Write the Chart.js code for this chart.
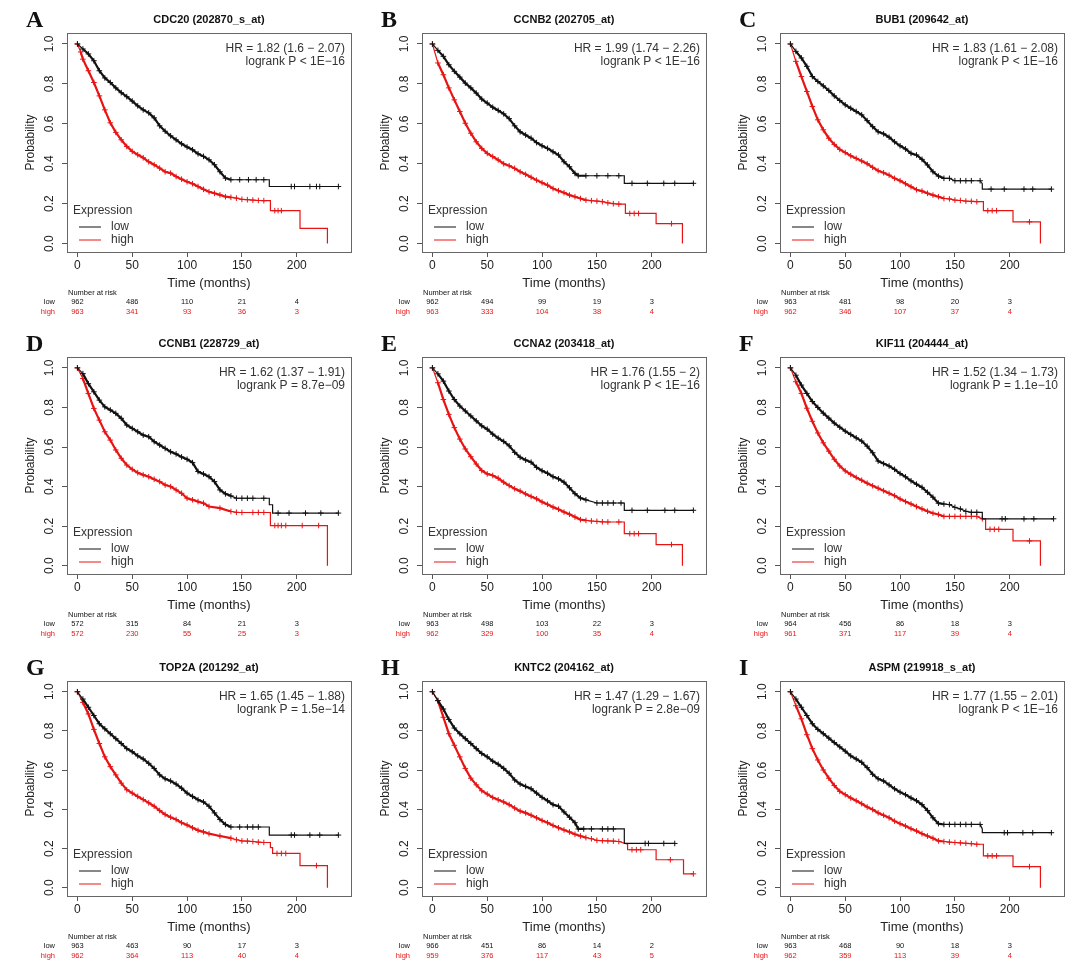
<!DOCTYPE html>
<html>
<head>
<meta charset="utf-8">
<script src="https://cdn.jsdelivr.net/npm/chart.js@4"></script>
<style>
  body { margin: 0; background: #fff; }
  #wrap { position: relative; width: 1080px; height: 971px; }
  .panel { position: absolute; width: 356px; height: 320px; }
</style>
</head>
<body>
<div id="wrap"></div>
<script>
const letters = ['A', 'B', 'C', 'D', 'E', 'F', 'G', 'H', 'I'];
const genes = ['CDC20 (202870_s_at)', 'CCNB2 (202705_at)', 'BUB1 (209642_at)',
  'CCNB1 (228729_at)', 'CCNA2 (203418_at)', 'KIF11 (204444_at)',
  'TOP2A (201292_at)', 'KNTC2 (204162_at)', 'ASPM (219918_s_at)'];
const hrLines = ['HR = 1.82 (1.6 \u2212 2.07)', 'HR = 1.99 (1.74 \u2212 2.26)', 'HR = 1.83 (1.61 \u2212 2.08)',
  'HR = 1.62 (1.37 \u2212 1.91)', 'HR = 1.76 (1.55 \u2212 2)', 'HR = 1.52 (1.34 \u2212 1.73)',
  'HR = 1.65 (1.45 \u2212 1.88)', 'HR = 1.47 (1.29 \u2212 1.67)', 'HR = 1.77 (1.55 \u2212 2.01)'];
const pLines = ['logrank P < 1E\u221216', 'logrank P < 1E\u221216', 'logrank P < 1E\u221216',
  'logrank P = 8.7e\u221209', 'logrank P < 1E\u221216', 'logrank P = 1.1e\u221210',
  'logrank P = 1.5e\u221214', 'logrank P = 2.8e\u221209', 'logrank P < 1E\u221216'];

const riskTimes = [0, 50, 100, 150, 200];
const riskLow = [[962, 486, 110, 21, 4], [962, 494, 99, 19, 3], [963, 481, 98, 20, 3],
  [572, 315, 84, 21, 3], [963, 498, 103, 22, 3], [964, 456, 86, 18, 3],
  [963, 463, 90, 17, 3], [966, 451, 86, 14, 2], [963, 468, 90, 18, 3]];
const riskHigh = [[963, 341, 93, 36, 3], [963, 333, 104, 38, 4], [962, 346, 107, 37, 4],
  [572, 230, 55, 25, 3], [962, 329, 100, 35, 4], [961, 371, 117, 39, 4],
  [962, 364, 113, 40, 4], [959, 376, 117, 43, 5], [962, 359, 113, 39, 4]];

// survival curves [months, probability]
const lowA = [[0,1],[5,.975],[10,.95],[15,.916],[20,.866],[25,.83],[30,.807],[35,.78],[40,.756],[45,.736],[50,.714],[55,.69],[60,.67],[65,.655],[70,.63],[75,.59],[80,.563],[85,.54],[90,.52],[95,.5],[100,.484],[105,.47],[110,.45],[115,.437],[120,.42],[125,.395],[130,.36],[135,.328],[140,.32],[148,.32],[156,.32],[163,.32],[170,.32],[175,.32],[175,.286],[195,.286],[198,.286],[212,.286],[218,.286],[221,.286],[238,.286]];
const highA = [[0,1],[3,.96],[5,.924],[10,.866],[15,.807],[20,.74],[25,.67],[30,.605],[35,.557],[40,.52],[45,.487],[50,.462],[55,.445],[60,.43],[65,.41],[70,.395],[75,.378],[80,.36],[85,.353],[90,.336],[95,.323],[100,.31],[105,.3],[110,.286],[115,.272],[120,.26],[125,.252],[130,.244],[135,.235],[140,.232],[145,.228],[150,.222],[155,.22],[160,.218],[165,.216],[170,.215],[176,.215],[176,.165],[180,.165],[183,.165],[186,.165],[203,.165],[203,.076],[228,.076],[228,0]];
const lowB = [[0,1],[5,.968],[10,.938],[15,.896],[20,.863],[25,.834],[30,.804],[35,.78],[40,.754],[45,.724],[50,.704],[55,.683],[60,.667],[65,.65],[70,.626],[75,.59],[80,.56],[85,.544],[90,.528],[95,.506],[100,.49],[105,.477],[110,.46],[115,.444],[120,.41],[125,.385],[130,.352],[133,.34],[140,.34],[150,.34],[160,.34],[170,.34],[175,.34],[175,.302],[182,.302],[196,.302],[211,.302],[221,.302],[238,.302]];
const highB = [[0,1],[5,.905],[10,.846],[15,.78],[20,.72],[25,.662],[30,.603],[35,.553],[40,.51],[45,.477],[50,.452],[55,.436],[60,.419],[65,.4],[70,.39],[75,.377],[80,.36],[85,.347],[90,.332],[95,.318],[100,.305],[105,.293],[110,.276],[115,.265],[120,.255],[125,.243],[130,.235],[135,.226],[140,.218],[145,.215],[150,.213],[155,.21],[160,.204],[165,.2],[170,.198],[176,.198],[176,.151],[180,.151],[184,.151],[188,.151],[204,.151],[204,.1],[218,.1],[228,.1],[228,0]];
const lowC = [[0,1],[5,.963],[10,.93],[15,.888],[20,.837],[25,.812],[30,.79],[35,.767],[40,.74],[45,.717],[50,.695],[55,.678],[60,.662],[65,.645],[70,.616],[75,.586],[80,.56],[85,.55],[90,.533],[95,.51],[100,.49],[105,.474],[110,.452],[115,.444],[120,.422],[125,.394],[130,.36],[135,.338],[140,.327],[145,.327],[150,.315],[155,.315],[160,.315],[165,.315],[173,.315],[175,.3],[175,.273],[183,.273],[195,.273],[213,.273],[221,.273],[238,.273]];
const highC = [[0,1],[5,.913],[10,.837],[15,.762],[20,.687],[25,.62],[30,.57],[35,.528],[40,.497],[45,.472],[50,.456],[55,.44],[60,.427],[65,.414],[70,.4],[75,.382],[80,.365],[85,.355],[90,.343],[95,.327],[100,.315],[105,.3],[110,.285],[115,.27],[120,.263],[125,.252],[130,.243],[135,.235],[140,.226],[145,.224],[150,.218],[155,.216],[160,.213],[165,.212],[170,.21],[176,.21],[176,.165],[180,.165],[184,.165],[188,.165],[203,.165],[203,.109],[218,.109],[228,.109],[228,0]];
const lowD = [[0,1],[5,.971],[10,.92],[15,.879],[20,.837],[25,.803],[30,.787],[35,.77],[40,.745],[45,.711],[50,.694],[55,.677],[60,.66],[65,.652],[70,.627],[75,.61],[80,.593],[85,.576],[90,.565],[95,.55],[100,.538],[105,.521],[110,.476],[115,.464],[120,.45],[125,.425],[130,.383],[135,.363],[140,.353],[145,.341],[150,.341],[155,.341],[160,.341],[170,.341],[175,.341],[175,.308],[178,.308],[178,.266],[183,.266],[193,.266],[208,.266],[222,.266],[238,.266]];
const highD = [[0,1],[5,.946],[10,.87],[15,.795],[20,.736],[25,.677],[30,.635],[35,.585],[40,.543],[45,.509],[50,.487],[55,.47],[60,.459],[65,.45],[70,.437],[75,.425],[80,.408],[85,.4],[90,.383],[95,.366],[100,.341],[105,.333],[110,.324],[115,.316],[120,.299],[130,.291],[140,.274],[145,.27],[150,.269],[160,.269],[165,.269],[170,.269],[176,.269],[176,.203],[180,.203],[183,.203],[186,.203],[190,.203],[205,.203],[220,.203],[228,.203],[228,0]];
const lowE = [[0,1],[5,.97],[10,.933],[15,.883],[20,.84],[25,.807],[30,.782],[35,.757],[40,.732],[45,.707],[50,.69],[55,.665],[60,.645],[65,.628],[70,.606],[75,.573],[80,.548],[85,.534],[90,.523],[95,.497],[100,.48],[105,.467],[110,.45],[115,.439],[120,.422],[125,.394],[130,.364],[135,.342],[140,.333],[150,.317],[155,.317],[160,.317],[165,.317],[172,.317],[175,.317],[175,.28],[182,.28],[196,.28],[212,.28],[221,.28],[238,.28]];
const highE = [[0,1],[5,.925],[10,.84],[15,.765],[20,.698],[25,.64],[30,.59],[35,.551],[40,.514],[45,.481],[50,.464],[55,.456],[60,.442],[65,.422],[70,.405],[75,.389],[80,.377],[85,.363],[90,.35],[95,.338],[100,.322],[105,.31],[110,.296],[115,.285],[120,.271],[125,.26],[130,.246],[135,.233],[140,.229],[145,.226],[150,.224],[155,.222],[160,.221],[170,.221],[175,.221],[175,.162],[180,.162],[184,.162],[188,.162],[204,.162],[204,.107],[218,.107],[228,.107],[228,0]];
const lowF = [[0,1],[5,.963],[10,.913],[15,.871],[20,.83],[25,.8],[30,.771],[35,.746],[40,.721],[45,.7],[50,.68],[55,.663],[60,.646],[65,.63],[70,.604],[75,.571],[80,.529],[85,.516],[90,.504],[95,.487],[100,.466],[105,.449],[110,.429],[115,.412],[120,.396],[125,.371],[130,.346],[135,.316],[140,.312],[145,.309],[150,.295],[155,.287],[160,.275],[165,.27],[170,.27],[175,.27],[175,.237],[193,.237],[196,.237],[213,.237],[222,.237],[240,.237]];
const highF = [[0,1],[5,.93],[10,.871],[15,.796],[20,.73],[25,.671],[30,.621],[35,.579],[40,.538],[45,.504],[50,.479],[55,.462],[60,.446],[65,.432],[70,.417],[75,.404],[80,.392],[85,.379],[90,.366],[95,.354],[100,.337],[105,.324],[110,.312],[115,.299],[120,.287],[125,.275],[130,.265],[135,.259],[140,.249],[145,.249],[150,.249],[155,.249],[160,.249],[165,.249],[170,.249],[175,.237],[178,.237],[178,.184],[182,.184],[186,.184],[190,.184],[203,.184],[203,.125],[218,.125],[228,.125],[228,0]];
const lowG = [[0,1],[5,.963],[10,.921],[15,.879],[20,.837],[25,.811],[30,.786],[35,.761],[40,.736],[45,.71],[50,.694],[55,.673],[60,.657],[65,.635],[70,.609],[75,.576],[80,.556],[85,.545],[90,.529],[95,.508],[100,.483],[105,.466],[110,.449],[115,.438],[120,.416],[125,.382],[130,.348],[135,.323],[140,.31],[148,.31],[155,.31],[160,.31],[165,.31],[175,.31],[175,.269],[195,.269],[198,.269],[212,.269],[221,.269],[238,.269]];
const highG = [[0,1],[5,.946],[10,.887],[15,.808],[20,.736],[25,.668],[30,.618],[35,.576],[40,.534],[45,.5],[50,.483],[55,.466],[60,.45],[65,.433],[70,.416],[75,.394],[80,.374],[85,.36],[90,.348],[95,.332],[100,.32],[105,.306],[110,.293],[115,.285],[120,.276],[130,.264],[140,.253],[145,.245],[150,.239],[155,.238],[160,.236],[165,.233],[170,.231],[176,.231],[176,.205],[178,.205],[178,.175],[182,.175],[186,.175],[190,.175],[203,.175],[203,.113],[218,.113],[228,.113],[228,0]];
const lowH = [[0,1],[5,.955],[10,.912],[15,.859],[20,.815],[25,.786],[30,.761],[35,.736],[40,.71],[45,.685],[50,.668],[55,.646],[60,.63],[65,.609],[70,.584],[75,.55],[80,.529],[85,.517],[90,.505],[95,.483],[100,.461],[105,.444],[110,.424],[115,.416],[120,.387],[125,.36],[130,.332],[133,.3],[138,.3],[145,.3],[155,.3],[160,.3],[165,.3],[175,.3],[175,.226],[194,.226],[197,.226],[211,.226],[221,.226]];
const highH = [[0,1],[5,.955],[10,.87],[15,.786],[20,.727],[25,.668],[30,.609],[35,.559],[40,.525],[45,.495],[50,.478],[55,.461],[60,.449],[65,.438],[70,.424],[75,.407],[80,.391],[85,.382],[90,.37],[95,.357],[100,.343],[105,.332],[110,.318],[115,.306],[120,.295],[125,.285],[130,.273],[135,.264],[140,.256],[145,.25],[150,.242],[155,.24],[160,.239],[165,.238],[170,.236],[178,.222],[178,.194],[182,.194],[186,.194],[190,.194],[204,.194],[204,.143],[217,.143],[229,.143],[229,.071],[238,.071]];
const lowI = [[0,1],[5,.963],[10,.921],[15,.879],[20,.837],[25,.808],[30,.786],[35,.764],[40,.741],[45,.719],[50,.697],[55,.673],[60,.657],[65,.64],[70,.613],[75,.579],[80,.556],[85,.545],[90,.525],[95,.505],[100,.488],[105,.475],[110,.458],[115,.444],[120,.424],[125,.394],[130,.357],[135,.327],[140,.323],[145,.323],[150,.323],[155,.323],[160,.323],[165,.323],[173,.323],[175,.3],[175,.281],[195,.281],[198,.281],[212,.281],[221,.281],[238,.281]];
const highI = [[0,1],[5,.929],[10,.862],[15,.781],[20,.71],[25,.652],[30,.601],[35,.559],[40,.522],[45,.492],[50,.475],[55,.458],[60,.444],[65,.429],[70,.412],[75,.399],[80,.382],[85,.37],[90,.357],[95,.34],[100,.327],[105,.315],[110,.301],[115,.29],[120,.276],[125,.264],[130,.253],[135,.239],[140,.236],[145,.233],[150,.231],[155,.229],[160,.227],[165,.225],[170,.222],[176,.222],[176,.163],[180,.163],[184,.163],[188,.163],[203,.163],[203,.108],[218,.108],[228,.108],[228,0]];

const lowCurves = [lowA, lowB, lowC, lowD, lowE, lowF, lowG, lowH, lowI];
const highCurves = [highA, highB, highC, highD, highE, highF, highG, highH, highI];

const colLeft = [1, 356, 714];
const rowTop = [0, 324, 648];
const rowAxisH = [68, 70, 72];
const RED = 'rgb(232,20,20)';
const BLACK = '#111';
const SANS = 'Arial, "Liberation Sans", Helvetica, sans-serif';
const SERIF = '"Times New Roman", "Liberation Serif", serif';

// no cross where the curve drops vertically
function crossRadius(ctx) {
    const d = ctx.dataset.data;
    const i = ctx.dataIndex;
    if (!d[i]) return 0;
    const same = (d[i - 1] && d[i - 1][0] === d[i][0]) || (d[i + 1] && d[i + 1][0] === d[i][0]);
    return same ? 0 : 2.8;
}
// dense censoring early on makes the curve look heavier
function segWidth(ctx) {
    return ctx.p0.parsed.x < 138 && ctx.p0.parsed.x > 2 ? 2.2 : 1.2;
}

const kmExtras = {
    id: 'kmExtras',
    afterDraw(chart) {
        const k = chart.options.plugins.kmExtras.panel;
        const ctx = chart.ctx;
        const a = chart.chartArea;
        const xs = chart.scales.x;
        ctx.save();
        // frame
        ctx.strokeStyle = '#666';
        ctx.lineWidth = 1;
        ctx.strokeRect(a.left + 0.5, a.top + 0.5, a.right - a.left, a.bottom - a.top);

        // letter + title
        ctx.fillStyle = '#111';
        ctx.textBaseline = 'middle';
        ctx.font = 'bold 24px ' + SERIF;
        ctx.textAlign = 'left';
        ctx.fillText(letters[k], 25, 21);
        ctx.font = 'bold 11px ' + SANS;
        ctx.textAlign = 'center';
        ctx.fillText(genes[k], (a.left + a.right) / 2, 20);

        // HR / p text
        ctx.font = '12px ' + SANS;
        ctx.fillStyle = '#333';
        ctx.textAlign = 'right';
        ctx.fillText(hrLines[k], a.right - 6, a.top + 16);
        ctx.fillText(pLines[k], a.right - 6, a.top + 29);

        // legend
        ctx.textAlign = 'left';
        ctx.fillText('Expression', a.left + 6, a.bottom - 41);
        ctx.fillText('low', a.left + 44, a.bottom - 25);
        ctx.fillText('high', a.left + 44, a.bottom - 12);
        ctx.lineWidth = 1;
        ctx.strokeStyle = BLACK;
        ctx.beginPath();
        ctx.moveTo(a.left + 12, a.bottom - 25);
        ctx.lineTo(a.left + 34, a.bottom - 25);
        ctx.stroke();
        ctx.strokeStyle = RED;
        ctx.beginPath();
        ctx.moveTo(a.left + 12, a.bottom - 12);
        ctx.lineTo(a.left + 34, a.bottom - 12);
        ctx.stroke();

        // number at risk
        ctx.font = '7.5px ' + SANS;
        ctx.fillStyle = '#111';
        ctx.textAlign = 'left';
        ctx.fillText('Number at risk', a.left + 1, a.bottom + 41);
        ctx.textAlign = 'right';
        ctx.fillText('low', a.left - 12, a.bottom + 50);
        ctx.fillStyle = RED;
        ctx.fillText('high', a.left - 12, a.bottom + 60);
        ctx.textAlign = 'center';
        riskTimes.forEach((t, j) => {
            const px = xs.getPixelForValue(t);
            ctx.fillStyle = '#111';
            ctx.fillText(String(riskLow[k][j]), px, a.bottom + 50);
            ctx.fillStyle = RED;
            ctx.fillText(String(riskHigh[k][j]), px, a.bottom + 60);
        });
        ctx.restore();
    }
};

const wrap = document.getElementById('wrap');
for (let k = 0; k < 9; k++) {
    const row = Math.floor(k / 3);
    const div = document.createElement('div');
    div.className = 'panel';
    div.style.left = colLeft[k % 3] + 'px';
    div.style.top = rowTop[row] + 'px';
    const cv = document.createElement('canvas');
    cv.width = 356;
    cv.height = 320;
    div.appendChild(cv);
    wrap.appendChild(div);

    new Chart(cv, {
        type: 'scatter',
        data: {
            datasets: [{
                label: 'low',
                data: lowCurves[k],
                showLine: true,
                borderColor: BLACK,
                backgroundColor: BLACK,
                borderWidth: 1.2,
                segment: { borderWidth: segWidth },
                pointStyle: 'cross',
                pointRadius: crossRadius,
                pointBorderWidth: 1,
                pointBorderColor: BLACK
            }, {
                label: 'high',
                data: highCurves[k],
                showLine: true,
                borderColor: RED,
                backgroundColor: RED,
                borderWidth: 1.2,
                segment: { borderWidth: segWidth },
                pointStyle: 'cross',
                pointRadius: crossRadius,
                pointBorderWidth: 1,
                pointBorderColor: RED
            }]
        },
        options: {
            responsive: false,
            animation: false,
            devicePixelRatio: 1,
            layout: { padding: { top: 33, right: 6, left: 0, bottom: 0 } },
            plugins: {
                legend: { display: false },
                tooltip: { enabled: false },
                kmExtras: { panel: k }
            },
            scales: {
                x: {
                    type: 'linear',
                    min: -9.5,
                    max: 249.5,
                    afterBuildTicks: s => { s.ticks = riskTimes.map(v => ({ value: v })); },
                    afterFit: s => { s.height = rowAxisH[row]; },
                    border: { display: false },
                    grid: { drawOnChartArea: false, tickLength: 5, tickColor: '#555' },
                    ticks: { font: { size: 12, family: SANS }, color: '#222', padding: 1, maxRotation: 0,
                        callback: v => String(v) },
                    title: { display: true, text: 'Time (months)', font: { size: 13, family: SANS },
                        color: '#222', padding: { top: 29 + rowAxisH[row] - 68, bottom: 29 + rowAxisH[row] - 68 } }
                },
                y: {
                    type: 'linear',
                    min: -0.042,
                    max: 1.055,
                    afterBuildTicks: s => { s.ticks = [0, 0.2, 0.4, 0.6, 0.8, 1].map(v => ({ value: v })); },
                    afterFit: s => { s.width = 66; },
                    border: { display: false },
                    grid: { drawOnChartArea: false, tickLength: 5, tickColor: '#555' },
                    ticks: { font: { size: 12, family: SANS }, color: '#222', padding: 4,
                        minRotation: 90, maxRotation: 90, crossAlign: 'center',
                        callback: v => Number(v).toFixed(1) },
                    title: { display: true, text: 'Probability', font: { size: 12, family: SANS },
                        color: '#222', padding: { top: 22, bottom: 22 } }
                }
            }
        },
        plugins: [kmExtras]
    });
}
</script>
</body>
</html>
